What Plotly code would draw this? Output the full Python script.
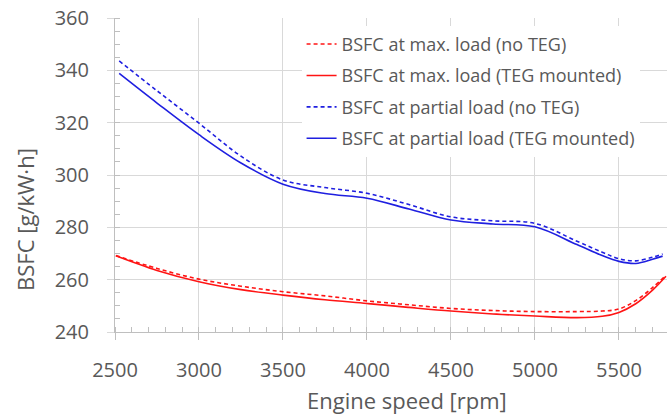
import plotly.graph_objects as go

# Engine speed [rpm]
rpm_partial = [2525, 2750, 3000, 3250, 3500, 3750, 4000, 4250, 4500, 4750, 5000, 5250, 5400, 5500, 5600, 5700, 5760]
rpm_max = [2505, 2750, 3000, 3250, 3500, 3750, 4000, 4250, 4500, 4750, 5000, 5250, 5400, 5500, 5600, 5700, 5780]

# BSFC [g/kW·h]
bsfc_partial_noteg = [343.6, 332.2, 319.8, 307.2, 298.1, 295.2, 293.0, 288.7, 284.0, 282.5, 281.5, 274.7, 270.5, 268.0, 267.2, 268.6, 269.8]
bsfc_partial_teg = [338.8, 327.5, 315.4, 304.6, 296.5, 292.9, 291.1, 287.0, 282.8, 281.3, 280.2, 273.4, 269.2, 267.0, 266.2, 267.8, 269.0]
bsfc_max_noteg = [269.2, 264.3, 260.2, 257.5, 255.4, 253.8, 251.9, 250.4, 249.0, 248.2, 247.8, 247.8, 248.0, 248.8, 252.0, 257.0, 261.7]
bsfc_max_teg = [269.1, 263.5, 259.2, 256.2, 254.1, 252.3, 250.9, 249.4, 248.0, 246.9, 246.1, 245.5, 246.0, 247.5, 250.8, 256.0, 261.3]

names = [
    "BSFC at max. load (no TEG)",
    "BSFC at max. load (TEG mounted)",
    "BSFC at partial load (no TEG)",
    "BSFC at partial load (TEG mounted)",
]
x_tick_vals = [2500, 3000, 3500, 4000, 4500, 5000, 5500]
y_tick_vals = [240, 260, 280, 300, 320, 340, 360]

RED = "#ff1414"
BLUE = "#1f1fe0"
TXT = "#595959"
DASH = "4px,3px"

fig = go.Figure()
series = [
    (rpm_max, bsfc_max_noteg, names[0], RED, DASH),
    (rpm_max, bsfc_max_teg, names[1], RED, "solid"),
    (rpm_partial, bsfc_partial_noteg, names[2], BLUE, DASH),
    (rpm_partial, bsfc_partial_teg, names[3], BLUE, "solid"),
]
for i, (xs, ys, nm, col, dash) in enumerate(series):
    fig.add_trace(go.Scatter(
        x=xs, y=ys, name=nm, mode="lines", legendgroup=f"g{i}",
        line=dict(color=col, width=1.6, dash=dash, shape="spline", smoothing=1.0),
    ))

fig.update_layout(
    width=667, height=418,
    margin=dict(l=115, r=0, t=18, b=86),
    paper_bgcolor="white", plot_bgcolor="white",
    font=dict(family="Open Sans", color=TXT),
    showlegend=True,
    legend=dict(
        x=0.338, y=0.975, xanchor="left", yanchor="top",
        bgcolor="white", borderwidth=0,
        font=dict(size=18, color=TXT, family="Open Sans"),
        traceorder="grouped", tracegroupgap=5,
    ),
)
fig.update_xaxes(
    range=[2500, 5786], tickvals=x_tick_vals,
    showgrid=True, gridcolor="#d9d9d9", gridwidth=1,
    showline=True, linecolor="#bfbfbf", linewidth=1,
    ticks="outside", ticklen=7, tickcolor="#bfbfbf",
    tickfont=dict(size=20, color=TXT), ticklabelstandoff=13,
    minor=dict(dtick=100, ticks="inside", ticklen=5, tickcolor="#bfbfbf", showgrid=False),
    zeroline=False,
)
fig.update_yaxes(
    range=[240, 360], tickvals=y_tick_vals,
    showgrid=True, gridcolor="#d9d9d9", gridwidth=1,
    showline=True, linecolor="#bfbfbf", linewidth=1,
    ticks="outside", ticklen=7, tickcolor="#d9d9d9",
    tickfont=dict(size=20, color=TXT), ticklabelstandoff=14,
    minor=dict(dtick=5, ticks="inside", ticklen=5, tickcolor="#bfbfbf", showgrid=False),
    zeroline=False,
)
fig.add_annotation(
    text="Engine speed [rpm]", xref="paper", yref="paper",
    x=0.529, y=-0.215, xanchor="center", yanchor="middle", showarrow=False,
    font=dict(size=22, color=TXT, family="Open Sans"),
)
fig.add_annotation(
    text="BSFC [g/kW·h]", xref="paper", yref="paper",
    x=-0.163, y=0.357, xanchor="center", yanchor="middle", showarrow=False,
    textangle=-90, font=dict(size=22, color=TXT, family="Open Sans"),
)
fig.write_html("out.html")
